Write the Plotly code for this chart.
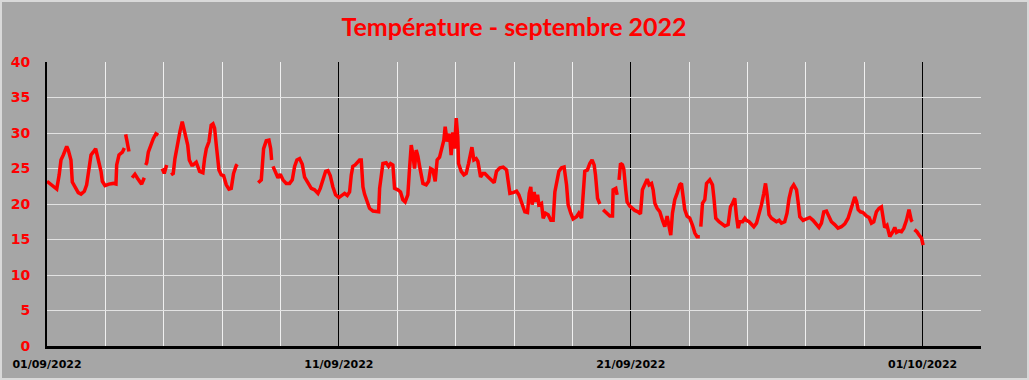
import pandas as pd
import plotly.graph_objects as go

# Hours since 2022-09-01 00:00 and temperatures (°C); None = missing data
hours = [
    0, 8, 10, 11.5, 13.4, 16.2, 17.5, 19.7, 20.8, 23, 25.7, 28, 30.7, 32.6, 34, 36.2, 38, 40,
    42.2, 44.4, 45.5, 47.7, 51, 54.5, 56.7, 57.3, 59.2, 62, 63.6,
    64.2,
    64.7, 66, 67.4,
    68.5,
    70, 72.3, 74.5, 76.4, 77.8, 80,
    80.5,
    81.1, 82, 83.3, 85.5, 87.4, 89.6, 91.5,
    93,
    94.8, 96.4, 98.4,
    100,
    102, 103.8, 105.2, 107.4, 109.3, 111.2, 113.4, 115.7, 117, 119, 120, 122.7, 125.5, 128.2,
    129.6, 131, 133.2, 135, 136.5, 137.8, 139.2, 141.4, 143.3, 145.2, 147.4, 149.6, 151.5,
    153.4, 155.6, 156.4,
    165,
    173.7, 176.2, 178.1, 180.3, 182.5, 183.9, 184.7,
    185.2,
    185.8, 188, 189.9, 191.8, 194, 196.7, 199.5, 201.7, 203.6, 205.5, 207.7, 209.9, 211.8,
    214.5, 217.3, 220, 222.8, 224.7, 226.9, 229.1, 231, 232.9, 235.1, 237.3, 240,
    241.9, 244.7, 246.9, 248.8, 250.2, 251.5, 253.4, 255.1, 257, 258.4, 259.8, 261.1, 263.3,
    265.2, 268, 270.7, 272.7, 273.5, 274.8, 276.2, 278.9, 280.9, 282.5, 284.4, 285.8, 288.5,
    290.7, 292.6, 294.5, 296.7, 298.1, 299.5, 300.9, 302.2, 303.6, 305, 306.4, 309.1, 311.8,
    313.8, 315.4, 317.3, 319.2, 320.8, 322.8, 324.7, 326.3, 327.4, 329, 331, 332.3, 333.7,
    335.1, 336.5, 337.8, 338.4, 340.6, 342.8, 344.7, 346.6, 348.3, 349.4, 351, 352.9, 354.3,
    356.5, 358.4, 360, 362.8, 365.5, 367.7, 369.6, 372.4, 375.1, 377.9, 379.2, 380.6, 383.3,
    386.1, 388, 390.2, 392.9, 395.1, 396.5, 397.8, 398.9, 400.6, 401.7, 403.4, 404.4, 406.6,
    408, 409.9, 412.1, 414.3, 416.2, 417.6, 419, 420.9, 423.1, 425.2, 427.2, 428.5, 430.7,
    432.6, 435.4, 437.3, 439.5, 440.8, 442.2, 444.4, 446.3, 448.2, 449.9, 451, 452.7, 454.6,
    455.8,
    457.3, 462.8, 465, 465.5, 467.7, 468.8,
    469.6,
    470.4, 471.6, 473.2, 474.3, 475.9, 477, 479.2, 480.6, 483.3, 486, 488, 489.6, 491.6,
    493.5, 495.1, 497.1, 498.4, 499.8, 501.7, 503.9, 506.1, 508, 509.9, 511.5, 512.9, 514.3,
    516.2, 518.1, 520.3, 521.7, 523, 524.4, 526.3, 528.5, 530.8, 532.7, 534.5, 536.8,
    537.2,
    537.6, 539, 540.9, 542.3, 545, 547.2, 548.3, 549.9, 552.6, 554.6, 557.3, 560.1, 562,
    563.7, 565.5, 566.9, 568.3, 569.6, 571.9, 573.8, 575.1, 577.3, 579.3, 581.2, 583.4,
    585.6, 587.5, 589.4, 590.8, 592.1, 593.7, 595.7, 597.6, 599.8, 602, 603.9, 606.6, 608.5,
    610.2, 612.1, 614, 616.3, 617.6, 619, 621.7, 624.5, 627.2, 629.9, 632.1, 634.8, 636.8,
    638.7, 640.9, 643.1, 645, 647.7, 650.4, 653.2, 656, 658.7, 660.7, 662.3, 664.2, 665.6,
    667, 668.9, 671, 673.8, 676, 677.9, 679.8, 682, 684.2, 686.1, 687.5, 688.8, 690.7, 693,
    695.2, 697.1, 698.5, 700.6, 702.6, 704.5, 706.7, 708.8, 710.7, 711.5,
    712.4,
    713.3, 715.3, 717.2, 719.1, 720.4,
]

temps = [
    23.2, 22.1, 24.1, 26.2, 26.9, 28.1, 27.6, 26.2, 23.1, 22.4, 21.6, 21.4, 21.8, 22.7, 24.6, 26.9, 27.3, 27.8,
    26.2, 24.6, 23.2, 22.6, 22.8, 22.9, 22.8, 25.5, 26.9, 27.3, 27.9,
    None,
    29.8, 28.5, 27.4,
    None,
    23.7, 24.2, 23.6, 23.2, 22.8, 23.7,
    None,
    25.5, 25.8, 27.3, 28.5, 29.2, 29.9, 29.7,
    None,
    25.0, 24.3, 25.5,
    None,
    24.1, 24.3, 26.4, 28.8, 30.2, 31.6, 30.2, 28.3, 26.2, 25.5, 25.5, 25.9, 24.6, 24.4,
    26.4, 27.8, 28.8, 31.1, 31.3, 30.7, 28.3, 24.8, 24.1, 24.0, 22.7, 22.1, 22.2,
    24.3, 25.4, 25.6,
    None,
    23.0, 23.4, 27.8, 28.9, 29.0, 27.8, 26.2,
    None,
    25.3, 24.3, 23.7, 24.2, 23.4, 22.9, 22.9, 23.4, 25.3, 26.2, 26.4, 25.6, 23.8,
    23.0, 22.2, 22.0, 21.5, 22.2, 23.4, 24.6, 24.7, 24.0, 22.4, 21.3, 20.9,
    21.2, 21.5, 21.2, 21.7, 24.1, 25.3, 25.5, 25.9, 26.2, 26.2, 22.4, 21.4, 20.1,
    19.4, 19.0, 18.9, 18.9, 22.2, 23.8, 25.7, 25.8, 25.3, 25.7, 25.5, 22.2, 22.0,
    21.7, 20.6, 20.3, 21.3, 25.0, 28.3, 26.9, 25.0, 27.6, 26.7, 25.3, 22.9, 22.7,
    23.2, 25.0, 24.8, 23.2, 26.2, 26.6, 27.8, 29.0, 30.9, 28.8, 29.9, 26.9, 30.1,
    27.8, 32.1, 29.4, 25.7, 24.6, 24.1, 24.3, 25.7, 27.4, 28.0, 26.2, 26.4, 26.0,
    23.8, 24.3, 24.3, 23.8, 23.4, 23.0, 24.6, 25.1, 25.2, 24.8, 23.2, 21.5, 21.6,
    21.8, 21.3, 20.3, 18.9, 18.8, 21.5, 22.4, 19.9, 21.7, 20.3, 21.3, 19.9, 20.1,
    18.0, 18.7, 18.5, 17.7, 17.7, 21.7, 22.9, 24.6, 25.1, 25.2, 22.7, 19.9, 18.7,
    17.9, 18.2, 18.7, 18.0, 21.3, 24.6, 24.8, 25.7, 26.2, 25.5, 24.1, 20.8, 20.0,
    None,
    19.2, 18.3, 18.3, 22.0, 22.2, 21.3,
    None,
    23.4, 25.7, 25.5, 24.9, 22.0, 20.3, 19.7, 19.5, 19.1, 18.9, 18.6, 22.0, 22.9,
    23.5, 22.7, 22.9, 22.0, 20.1, 19.4, 18.9, 17.7, 16.8, 18.3, 17.1, 15.6, 18.7,
    20.6, 21.5, 22.7, 22.9, 21.3, 19.2, 18.3, 18.0, 17.0, 15.9, 15.4, 15.4,
    None,
    16.8, 20.1, 20.6, 22.9, 23.4, 22.7, 21.0, 18.0, 17.5, 17.3, 16.9, 17.1, 19.6,
    20.1, 20.8, 18.3, 16.6, 17.5, 17.5, 18.0, 17.7, 17.5, 17.1, 16.8, 17.3,
    18.5, 19.9, 21.5, 22.9, 21.3, 18.5, 18.0, 17.7, 17.5, 17.7, 17.3, 17.5, 18.7,
    20.8, 22.2, 22.7, 22.0, 20.3, 18.2, 17.7, 17.9, 18.1, 17.7, 17.3, 16.7, 17.3,
    18.9, 19.0, 18.2, 17.5, 17.1, 16.6, 16.8, 17.2, 18.0, 19.2, 20.1, 21.0, 20.4,
    19.2, 18.9, 18.8, 18.3, 18.1, 17.3, 17.5, 18.9, 19.4, 19.6, 18.2, 16.7, 17.0, 15.4,
    16.0, 16.7, 16.0, 16.2, 16.1, 16.6, 17.7, 19.2, 17.7, 17.5,
    None,
    16.4, 16.1, 15.6, 15.2, 14.2,
]

title_text = "Température - septembre 2022"
x_start = "2022-09-01"
x_end = "2022-10-03"

times = pd.Timestamp(x_start) + pd.to_timedelta(hours, unit="h")

fig = go.Figure()
fig.add_trace(go.Scatter(
    x=times, y=temps, mode="lines",
    line=dict(color="#FF0000", width=3.5),
    connectgaps=False, hoverinfo="skip", showlegend=False,
))

W, H = 1029, 380
ml, mr, mt, mb = 47, 48, 62, 34
pw, ph = W - ml - mr, H - mt - mb

fig.update_layout(
    width=W, height=H,
    margin=dict(l=ml, r=mr, t=mt, b=mb, pad=0, autoexpand=False),
    paper_bgcolor="#A6A6A6", plot_bgcolor="#A6A6A6",
    title=dict(
        text=title_text, x=514 / W, xanchor="center", y=1 - 27 / H, yanchor="middle",
        xref="container", yref="container", automargin=False,
        font=dict(family="Lato", size=25, color="#FF0000", weight="bold"),
    ),
    xaxis=dict(
        type="date", range=[x_start, x_end], automargin=False,
        tick0=x_start, dtick=10 * 86400000, tickformat="%d/%m/%Y",
        showgrid=True, gridcolor="#000000", gridwidth=1,
        minor=dict(dtick=2 * 86400000, tick0=x_start, showgrid=True,
                   gridcolor="#F0F0F0", gridwidth=1),
        showline=True, linecolor="#000000", linewidth=3,
        ticks="", ticklabelstandoff=6,
        tickfont=dict(family="DejaVu Sans", size=11, color="#000000", weight="bold"),
        zeroline=False, fixedrange=True,
    ),
    yaxis=dict(
        range=[0, 40], dtick=5, tick0=0, automargin=False,
        showgrid=True, gridcolor="#E2E2E2", gridwidth=1,
        showline=True, linecolor="#000000", linewidth=2,
        ticks="", ticklabelstandoff=12,
        tickfont=dict(family="DejaVu Sans", size=14, color="#FF0000", weight="bold"),
        zeroline=False, fixedrange=True,
    ),
    shapes=[dict(
        type="rect", xref="paper", yref="paper",
        x0=-ml / pw + 1 / pw, x1=1 + mr / pw - 1 / pw,
        y0=-mb / ph + 1 / ph, y1=1 + mt / ph - 1 / ph,
        line=dict(color="#D9D9D9", width=2), layer="below",
    )],
)

fig.write_html(
    "out.html",
    config={"displayModeBar": False},
    post_script="document.body.style.margin='0';document.body.style.overflow='hidden';",
)
